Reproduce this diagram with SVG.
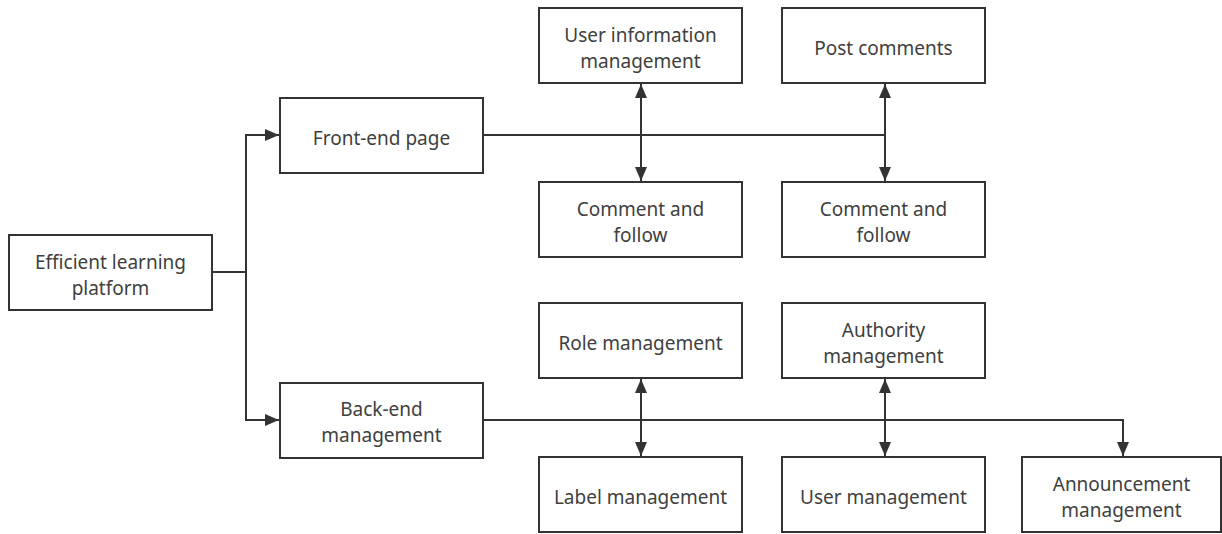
<svg xmlns="http://www.w3.org/2000/svg" width="1222" height="534" viewBox="0 0 1222 534">
<style>
.box{fill:#fff;stroke:#333;stroke-width:2}
.lbl{font-family:"Noto Sans","Open Sans",sans-serif;font-size:19px;fill:#404040;text-anchor:middle}
.ln{fill:none;stroke:#333;stroke-width:2}
</style>
<defs>
<marker id="ah" markerUnits="userSpaceOnUse" markerWidth="15" markerHeight="13" refX="14" refY="6.5" orient="auto-start-reverse">
<path d="M0,0.5 L14,6.5 L0,12.5 z" fill="#333"/>
</marker>
</defs>
<g id="connectors">
<path class="ln" d="M212,272 H246"/>
<path class="ln" d="M246,272 V135 H279" marker-end="url(#ah)"/>
<path class="ln" d="M246,272 V420 H279" marker-end="url(#ah)"/>
<path class="ln" d="M483,135 H885"/>
<path class="ln" d="M641,84 V181" marker-start="url(#ah)" marker-end="url(#ah)"/>
<path class="ln" d="M885,84 V181" marker-start="url(#ah)" marker-end="url(#ah)"/>
<path class="ln" d="M483,420 H1123 V456" marker-end="url(#ah)"/>
<path class="ln" d="M641,379 V456" marker-start="url(#ah)" marker-end="url(#ah)"/>
<path class="ln" d="M885,379 V456" marker-start="url(#ah)" marker-end="url(#ah)"/>
</g>
<g id="root"><rect class="box" x="9" y="235" width="203" height="75"/><text class="lbl" x="110.5" y="269">Efficient learning</text><text class="lbl" x="110.5" y="295">platform</text></g>
<g id="front"><rect class="box" x="280" y="98" width="203" height="75"/><text class="lbl" x="381.5" y="145">Front-end page</text></g>
<g id="back"><rect class="box" x="280" y="383" width="203" height="75"/><text class="lbl" x="381.5" y="416">Back-end</text><text class="lbl" x="381.5" y="442">management</text></g>
<g id="userinfo"><rect class="box" x="539" y="8" width="203" height="75"/><text class="lbl" x="640.5" y="42">User information</text><text class="lbl" x="640.5" y="68">management</text></g>
<g id="post"><rect class="box" x="782" y="8" width="203" height="75"/><text class="lbl" x="883.5" y="55">Post comments</text></g>
<g id="cf1"><rect class="box" x="539" y="182" width="203" height="75"/><text class="lbl" x="640.5" y="216">Comment and</text><text class="lbl" x="640.5" y="242">follow</text></g>
<g id="cf2"><rect class="box" x="782" y="182" width="203" height="75"/><text class="lbl" x="883.5" y="216">Comment and</text><text class="lbl" x="883.5" y="242">follow</text></g>
<g id="role"><rect class="box" x="539" y="303" width="203" height="75"/><text class="lbl" x="640.5" y="350">Role management</text></g>
<g id="authority"><rect class="box" x="782" y="303" width="203" height="75"/><text class="lbl" x="883.5" y="337">Authority</text><text class="lbl" x="883.5" y="363">management</text></g>
<g id="label"><rect class="box" x="539" y="457" width="203" height="75"/><text class="lbl" x="640.5" y="504">Label management</text></g>
<g id="user"><rect class="box" x="782" y="457" width="203" height="75"/><text class="lbl" x="883.5" y="504">User management</text></g>
<g id="announce"><rect class="box" x="1022" y="457" width="199" height="75"/><text class="lbl" x="1121.5" y="491">Announcement</text><text class="lbl" x="1121.5" y="517">management</text></g>
</svg>
